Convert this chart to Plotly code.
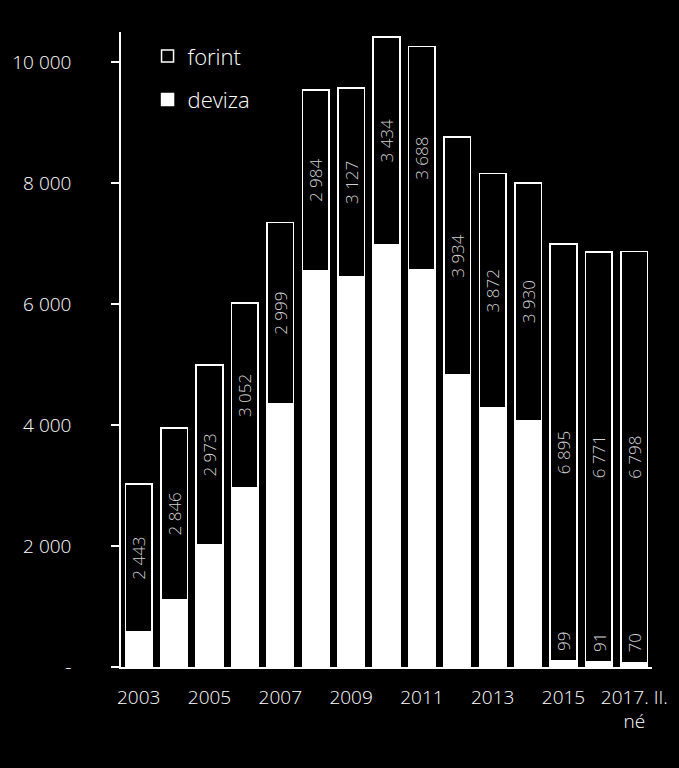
import plotly.graph_objects as go

categories = ["2003", "2004", "2005", "2006", "2007", "2008", "2009", "2010",
              "2011", "2012", "2013", "2014", "2015", "2016", "2017. II.<br>né"]
deviza = [580, 1110, 2020, 2965, 4350, 6555, 6450, 6985, 6570, 4830, 4285, 4075, 99, 91, 70]
forint = [2443, 2846, 2973, 3052, 2999, 2984, 3127, 3434, 3688, 3934, 3872, 3930, 6895, 6771, 6798]
deviza_labelled = ["2015", "2016", "2017. II.<br>né"]

y_tickvals = [0, 2000, 4000, 6000, 8000, 10000]
y_ticktext = ["-", "2 000", "4 000", "6 000", "8 000", "10 000"]
x_tickvals = ["2003", "2005", "2007", "2009", "2011", "2013", "2015", "2017. II.<br>né"]


def fmt(v):
    return f"{v:,}".replace(",", " ")


FONT = "Open Sans"

fig = go.Figure()
fig.add_trace(go.Bar(
    x=categories, y=deviza, name="deviza", legendgroup="d", legendrank=2,
    marker=dict(color="white", line=dict(color="white", width=1.5)),
    width=0.75,
))
fig.add_trace(go.Bar(
    x=categories, y=forint, name="forint", legendgroup="f", legendrank=1,
    marker=dict(color="black", line=dict(color="white", width=1.5)),
    width=0.75,
    text=[fmt(v) for v in forint],
    textposition="inside", textangle=-90, insidetextanchor="middle",
    insidetextfont=dict(color="#d0d0d0", size=17, family=FONT, weight=300),
    constraintext="none",
))

for i, (c, v) in enumerate(zip(categories, deviza)):
    if c in deviza_labelled:
        fig.add_annotation(
            x=i, y=v, text=fmt(v), textangle=-90, showarrow=False,
            yanchor="bottom", yshift=8,
            font=dict(color="#d0d0d0", size=17, family=FONT, weight=300),
        )

fig.update_layout(
    width=679, height=768,
    paper_bgcolor="black", plot_bgcolor="black",
    margin=dict(l=115, r=24, t=32, b=101),
    barmode="stack", bargap=0.25,
    showlegend=True,
    legend=dict(
        x=0.05, y=0.995, xanchor="left", yanchor="top",
        traceorder="grouped",
        font=dict(color="white", size=22, family=FONT, weight=300),
        bgcolor="rgba(0,0,0,0)", itemwidth=30, tracegroupgap=12,
    ),
    font=dict(family=FONT, color="white"),
    xaxis=dict(
        type="category", range=[-0.5, 14.5],
        tickvals=x_tickvals, ticktext=x_tickvals,
        showline=True, linecolor="white", linewidth=1.5,
        ticks="", showgrid=False, tickangle=0,
        ticklabelstandoff=12,
        tickfont=dict(color="white", size=19, family=FONT, weight=300),
    ),
    yaxis=dict(
        range=[0, 10500],
        tickvals=y_tickvals, ticktext=y_ticktext,
        showline=True, linecolor="white", linewidth=1.5,
        ticks="outside", ticklen=8, tickcolor="white", tickwidth=1.5,
        showgrid=False, zeroline=False, ticklabelstandoff=36,
        tickfont=dict(color="white", size=19, family=FONT, weight=300),
    ),
)

fig.write_html("out.html")
